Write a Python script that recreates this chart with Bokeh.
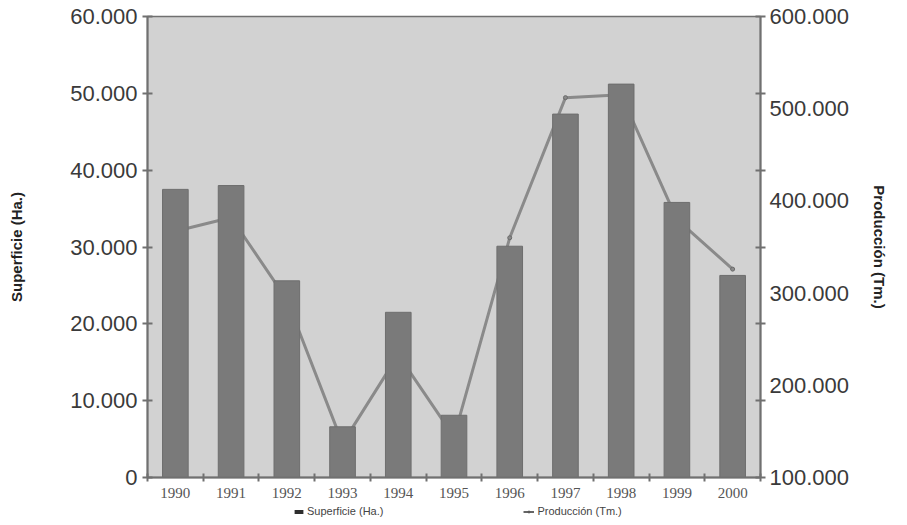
from bokeh.plotting import figure
from bokeh.layouts import column
from bokeh.models import (Range1d, LinearAxis, FixedTicker, Legend, LegendItem,
                          ColumnDataSource)
from bokeh.embed import file_html
from bokeh.resources import INLINE

# ---- data ----
years = ["1990", "1991", "1992", "1993", "1994", "1995", "1996", "1997", "1998", "1999", "2000"]
superficie = [37500, 38000, 25600, 6600, 21500, 8100, 30100, 47300, 51200, 35800, 26300]
produccion = [367000, 382000, 293000, 137000, 233000, 144000, 360000, 512000, 515000, 380000, 326000]

sup_ticks = [0, 10000, 20000, 30000, 40000, 50000, 60000]
sup_tick_labels = ["0", "10.000", "20.000", "30.000", "40.000", "50.000", "60.000"]
prod_ticks = [100000, 200000, 300000, 400000, 500000, 600000]
prod_tick_labels = ["100.000", "200.000", "300.000", "400.000", "500.000", "600.000"]
series_names = ["Superficie (Ha.)", "Producción (Tm.)"]

# ---- styling ----
PLOT_BG = "#d2d2d2"
BAR = "#7a7a7a"
LINE = "#8a8a8a"
AXIS = "#707070"
TXT = "#3a3a3a"
FONT = "Liberation Sans"

xpos = [i + 0.5 for i in range(len(years))]
src = ColumnDataSource(dict(x=xpos, sup=superficie, prod=produccion, year=years))

p = figure(width=891, height=506, output_backend="svg", toolbar_location=None,
           x_range=Range1d(0, len(years)), y_range=Range1d(0, 60000),
           min_border_top=16, min_border_bottom=29, min_border_left=147, min_border_right=129,
           background_fill_color=PLOT_BG, border_fill_color="white",
           x_axis_location="below", y_axis_location="left")
p.grid.visible = False
p.outline_line_color = AXIS
p.outline_line_width = 1.5

p.extra_y_ranges = {"prod": Range1d(100000, 600000)}

# production line (behind bars)
p.line("x", "prod", source=src, y_range_name="prod", line_color=LINE, line_width=3)
p.scatter("x", "prod", source=src, y_range_name="prod", size=4,
          fill_color=LINE, line_color="#6a6a6a")
# bars
p.vbar(x="x", top="sup", width=0.46, source=src, fill_color=BAR,
       line_color="#6e6e6e", line_width=1)

# ---- x axis ----
xa = p.xaxis[0]
xa.ticker = FixedTicker(ticks=xpos, minor_ticks=list(range(len(years) + 1)))
xa.major_label_overrides = {x: y for x, y in zip(xpos, years)}
xa.major_tick_line_color = None
xa.minor_tick_line_color = AXIS
xa.minor_tick_line_width = 2
xa.minor_tick_in = 4
xa.minor_tick_out = 4
xa.axis_line_color = AXIS
xa.axis_line_width = 2
xa.major_label_text_font = "Liberation Serif"
xa.major_label_text_font_size = "15px"
xa.major_label_text_color = "#555555"
xa.major_label_standoff = 4

# ---- left axis ----
ya = p.yaxis[0]
ya.ticker = FixedTicker(ticks=sup_ticks)
ya.major_label_overrides = {t: l for t, l in zip(sup_ticks, sup_tick_labels)}
ya.axis_label = "Superficie (Ha.)"
ya.axis_label_text_font = FONT
ya.axis_label_text_font_style = "bold"
ya.axis_label_text_font_size = "15px"
ya.axis_label_text_color = "#222222"
ya.axis_label_standoff = 42
ya.major_label_text_font = FONT
ya.major_label_text_font_size = "22px"
ya.major_label_text_color = TXT
ya.major_label_standoff = 5
ya.major_tick_in = 5
ya.major_tick_out = 5
ya.major_tick_line_color = AXIS
ya.major_tick_line_width = 2
ya.minor_tick_line_color = None
ya.axis_line_color = AXIS
ya.axis_line_width = 2

# ---- right axis ----
rng = p.extra_y_ranges["prod"]
ra = LinearAxis(y_range_name="prod",
                ticker=FixedTicker(ticks=prod_ticks,
                                   minor_ticks=[rng.start + k * (rng.end - rng.start) / 6 for k in range(7)]))
ra.major_label_overrides = {t: l for t, l in zip(prod_ticks, prod_tick_labels)}
ra.axis_label = "Producción (Tm.)"
ra.axis_label_text_font = FONT
ra.axis_label_text_font_style = "bold"
ra.axis_label_text_font_size = "15px"
ra.axis_label_text_color = "#222222"
ra.axis_label_standoff = 19
ra.major_label_text_font = FONT
ra.major_label_text_font_size = "22px"
ra.major_label_text_color = TXT
ra.major_label_standoff = 4
ra.major_tick_line_color = None
ra.major_tick_out = 5
ra.minor_tick_line_color = AXIS
ra.minor_tick_line_width = 2
ra.minor_tick_in = 5
ra.minor_tick_out = 5
ra.axis_line_color = AXIS
ra.axis_line_width = 2
p.add_layout(ra, "right")

# ---- legend strip (thin figure under the chart; its data lie outside its view) ----
n = len(years)
lg = figure(width=891, height=11, output_backend="svg", toolbar_location=None,
            x_axis_type=None, y_axis_type=None,
            x_range=Range1d(n + 50, n + 51), y_range=Range1d(1e7, 1e7 + 1),
            min_border=0, outline_line_color=None, border_fill_color="white",
            background_fill_color="white")
lg.grid.visible = False
r_bar = lg.vbar(x="x", top="sup", width=0.46, source=src, fill_color="#2e2e2e", line_color=None)
r_line = lg.line("x", "prod", source=src, line_color="#666666", line_width=2)
r_pt = lg.scatter("x", "prod", source=src, size=4, fill_color="#666666", line_color="#555555")
legend = Legend(items=[LegendItem(label=series_names[0], renderers=[r_bar]),
                       LegendItem(label=series_names[1], renderers=[r_line, r_pt])],
                orientation="horizontal", location=(146, 0),
                border_line_color=None, background_fill_alpha=0,
                label_text_font=FONT, label_text_font_size="11px", label_text_color="#444444",
                glyph_width=11, glyph_height=5, spacing=140, padding=0, margin=0,
                label_standoff=3, label_height=10)
lg.add_layout(legend, "center")

open("out.html", "w").write(file_html(column(p, lg, spacing=0), INLINE))
